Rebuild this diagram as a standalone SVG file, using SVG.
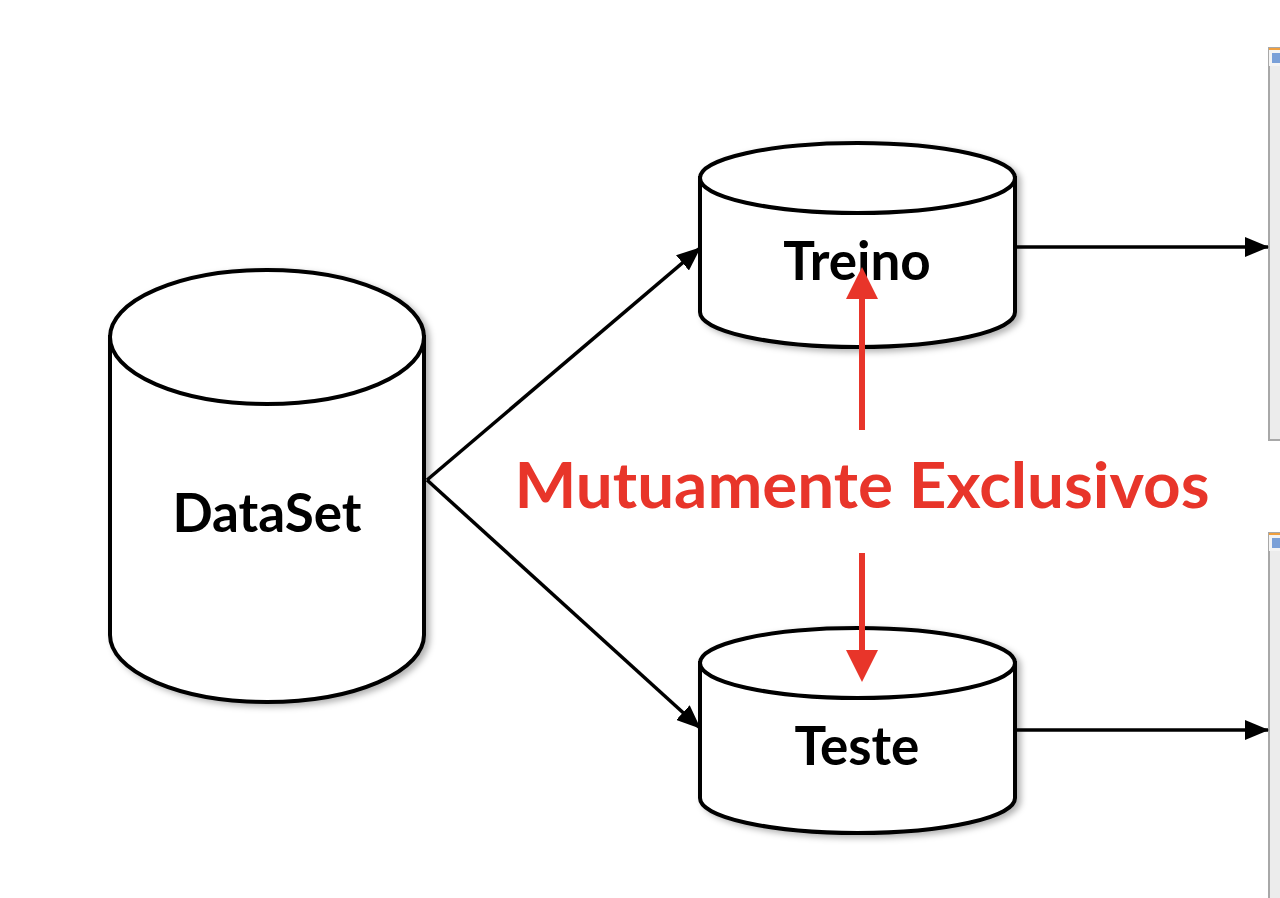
<svg xmlns="http://www.w3.org/2000/svg" width="1280" height="898" viewBox="0 0 1280 898">
<style>
.cyl{fill:#fff;stroke:#000;stroke-width:4}
.lbl{font-family:Lato,"Open Sans","Liberation Sans",sans-serif;font-weight:bold;fill:#000;text-anchor:middle}
.con{stroke:#000;stroke-width:3.5;fill:none}
.red{stroke:#E8352A;stroke-width:6;fill:none}
</style>
<defs>
<marker id="ah" viewBox="0 0 24 20" refX="23" refY="10" markerWidth="24" markerHeight="20" markerUnits="userSpaceOnUse" orient="auto">
<path d="M0,0 L24,10 L0,20 z" fill="#000"/>
</marker>
<filter id="sh" x="-10%" y="-10%" width="125%" height="125%">
<feDropShadow dx="4" dy="3" stdDeviation="3" flood-color="#000" flood-opacity="0.3"/>
</filter>
</defs>
<rect width="1280" height="898" fill="#fff"/>
<g id="side-panels">
<rect x="1269" y="48" width="12" height="392" fill="#ececec" stroke="#a8a8a8" stroke-width="2"/>
<rect x="1269" y="48" width="12" height="18" fill="#f4f4f4"/>
<line x1="1269" y1="49" x2="1281" y2="49" stroke="#f0a040" stroke-width="2"/>
<rect x="1272" y="53" width="8" height="10" fill="#7aa0d8"/>
<rect x="1269" y="533" width="12" height="370" fill="#ececec" stroke="#a8a8a8" stroke-width="2"/>
<rect x="1269" y="533" width="12" height="18" fill="#f4f4f4"/>
<line x1="1269" y1="534" x2="1281" y2="534" stroke="#f0a040" stroke-width="2"/>
<rect x="1272" y="538" width="8" height="10" fill="#7aa0d8"/>
</g>
<g id="connectors">
<line class="con" x1="427" y1="480" x2="700" y2="248" marker-end="url(#ah)"/>
<line class="con" x1="427" y1="480" x2="700" y2="728" marker-end="url(#ah)"/>
<line class="con" x1="1015" y1="247" x2="1268" y2="247" marker-end="url(#ah)"/>
<line class="con" x1="1015" y1="730" x2="1268" y2="730" marker-end="url(#ah)"/>
</g>
<g id="dataset" filter="url(#sh)">
<path class="cyl" d="M110,337 L110,635 A157,67 0 0 0 424,635 L424,337 Z"/>
<ellipse class="cyl" cx="267" cy="337" rx="157" ry="67"/>
<text class="lbl" x="267" y="532" font-size="53">DataSet</text>
</g>
<g id="treino" filter="url(#sh)">
<path class="cyl" d="M700,178 L700,312 A157.5,35 0 0 0 1015,312 L1015,178 Z"/>
<ellipse class="cyl" cx="857.5" cy="178" rx="157.5" ry="35"/>
<text class="lbl" x="857" y="280" font-size="53">Treino</text>
</g>
<g id="teste" filter="url(#sh)">
<path class="cyl" d="M700,663 L700,798 A157.5,35 0 0 0 1015,798 L1015,663 Z"/>
<ellipse class="cyl" cx="857.5" cy="663" rx="157.5" ry="35"/>
<text class="lbl" x="857" y="765" font-size="53">Teste</text>
</g>
<g id="exclusive">
<line class="red" x1="862" y1="430" x2="862" y2="296"/>
<path d="M846,299 L862,267 L878,299 Z" fill="#E8352A"/>
<line class="red" x1="862" y1="553" x2="862" y2="652"/>
<path d="M846,650 L862,682 L878,650 Z" fill="#E8352A"/>
<text x="862" y="508" font-family="Lato,'Open Sans','Liberation Sans',sans-serif" font-weight="bold" font-size="64" fill="#E8352A" text-anchor="middle" textLength="695" lengthAdjust="spacingAndGlyphs">Mutuamente Exclusivos</text>
</g>
</svg>
